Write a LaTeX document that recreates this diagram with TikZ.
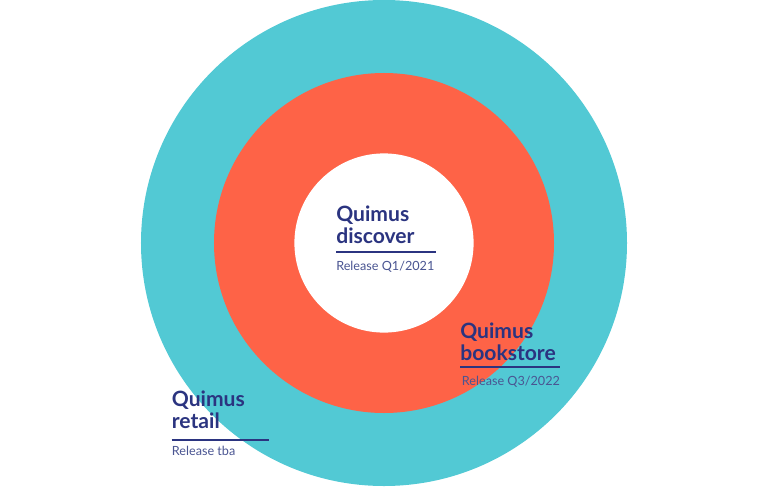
\documentclass[tikz,border=0pt]{standalone}
\usepackage{fontspec}
\setmainfont{Lato}
\usetikzlibrary{positioning}

\definecolor{ringteal}{HTML}{52C9D4}
\definecolor{ringred}{HTML}{FE6347}
\definecolor{quimusnavy}{HTML}{2B3480}
\definecolor{releaseblue}{HTML}{4A5592}

\begin{document}
\begin{tikzpicture}[
  ring/.style={circle, draw=none, inner sep=0pt},
  title/.style={anchor=base west, inner sep=0pt, align=left, text=quimusnavy,
    font=\bfseries\fontsize{15}{15.4}\selectfont},
  release/.style={anchor=base west, inner sep=0pt, text=releaseblue,
    font=\fontsize{9}{11}\selectfont},
  rule/.style={draw=quimusnavy, line width=1.4pt}
]
\useasboundingbox (-9.6,-6.075) rectangle (9.6,6.075);

% Rings
\node[ring, fill=ringteal, minimum size=12.15cm] (retailring) at (0,0) {};
\node[ring, fill=ringred, minimum size=8.5cm] (bookstorering) at (0,0) {};
\node[ring, fill=white, minimum size=4.48cm] (discoverring) at (0,0) {};

% Quimus discover (base = last line)
\node[title] (discover) at (-1.2,-0.01) {Quimus\\discover};
\coordinate (discoverL) at (-1.2,-0.22);
\coordinate (discoverR) at (1.3,-0.22);
\draw[rule] (discoverL) -- (discoverR);
\node[release] (discoverdate) at (-1.2,-0.69) {Release Q1/2021};

% Quimus bookstore
\node[title] (bookstore) at (1.9,-2.925) {Quimus\\bookstore};
\coordinate (bookstoreL) at (1.9,-3.11);
\coordinate (bookstoreR) at (4.4,-3.11);
\draw[rule] (bookstoreL) -- (bookstoreR);
\node[release] (bookstoredate) at (1.94,-3.55) {Release Q3/2022};

% Quimus retail
\node[title] (retail) at (-5.31,-4.63) {Quimus\\retail};
\coordinate (retailL) at (-5.31,-4.925);
\coordinate (retailR) at (-2.87,-4.925);
\draw[rule] (retailL) -- (retailR);
\node[release] (retaildate) at (-5.31,-5.3) {Release tba};
\end{tikzpicture}
\end{document}
